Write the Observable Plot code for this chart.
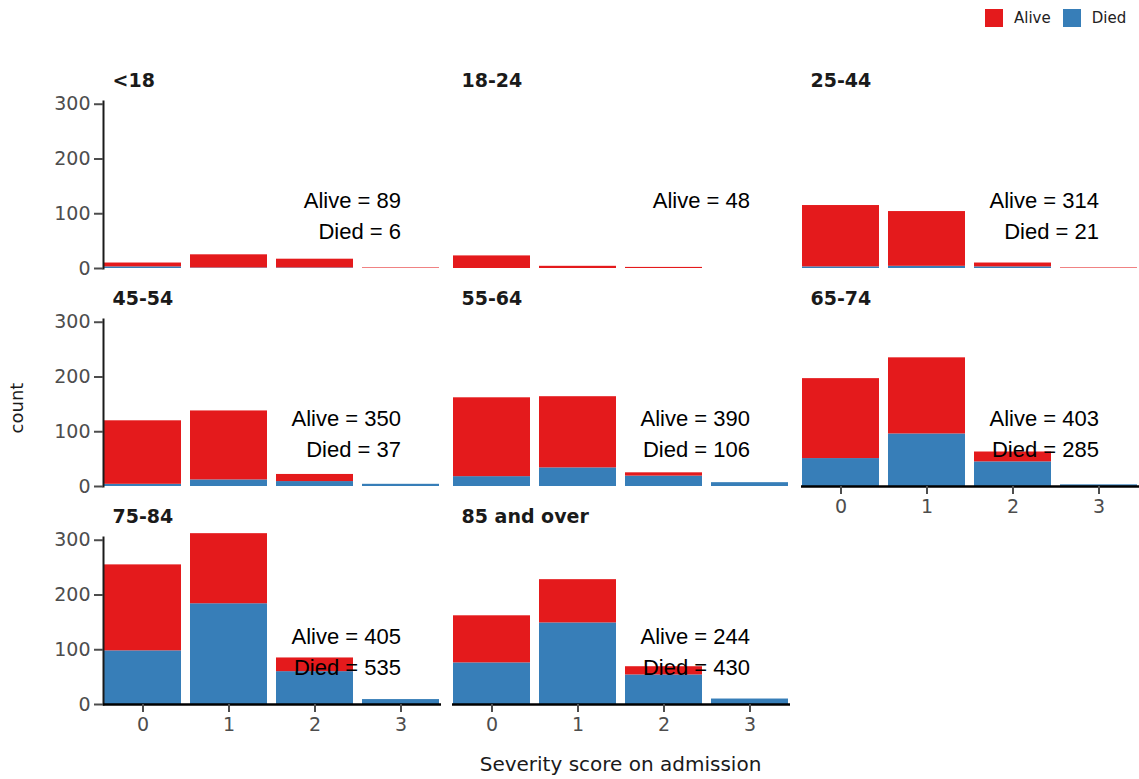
<!DOCTYPE html>
<html>
<head>
<meta charset="utf-8">
<script src="https://cdn.jsdelivr.net/npm/d3@7"></script>
<script src="https://cdn.jsdelivr.net/npm/@observablehq/plot@0.6"></script>
<style>
  body { margin: 0; background: #fff; font-family: "DejaVu Sans", sans-serif; }
  #wrap { position: relative; width: 1139px; height: 779px; }
  #legend { position: absolute; top: 9px; left: 985px; display: flex; align-items: center; font-size: 15px; color: #222; }
  #legend .sw { width: 18px; height: 18px; display: inline-block; }
  #legend .lab { margin-left: 11px; margin-right: 12px; }
  svg { position: absolute; top: 0; left: 0; }
</style>
</head>
<body>
<div id="wrap"><div id="legend"></div></div>
<script>
// ---- data ----
const ageGroups = ["<18", "18-24", "25-44", "45-54", "55-64", "65-74", "75-84", "85 and over"];
const scores = [0, 1, 2, 3];
const statuses = ["Alive", "Died"];
const statusColors = ["#e41a1c", "#377eb8"];
// counts per age group, per severity score 0..3
const aliveCounts = [
  [7, 24, 16, 1],
  [23, 4, 2, 0],
  [112, 100, 7, 1],
  [116, 126, 13, 0],
  [144, 130, 6, 0],
  [146, 139, 18, 0],
  [157, 128, 25, 0],
  [86, 79, 15, 0]
];
const diedCounts = [
  [3, 1, 1, 0],
  [0, 0, 0, 0],
  [3, 4, 3, 0],
  [4, 12, 9, 4],
  [18, 34, 19, 7],
  [51, 96, 45, 3],
  [98, 184, 60, 9],
  [76, 149, 54, 10]
];
const aliveTotals = [89, 48, 314, 350, 390, 403, 405, 244];
const diedTotals = [6, 0, 21, 37, 106, 285, 535, 430];
const yTicks = [0, 100, 200, 300];

// ---- build tables ----
const nCols = 3;
const rows = [];
ageGroups.forEach((g, i) => {
  scores.forEach((s, j) => rows.push({group: g, col: i % nCols, row: Math.floor(i / nCols), score: s, status: "Died", count: diedCounts[i][j]}));
  scores.forEach((s, j) => rows.push({group: g, col: i % nCols, row: Math.floor(i / nCols), score: s, status: "Alive", count: aliveCounts[i][j]}));
});
const titles = ageGroups.map((g, i) => ({group: g, col: i % nCols, row: Math.floor(i / nCols)}));
const notes = [];
ageGroups.forEach((g, i) => {
  const base = {group: g, col: i % nCols, row: Math.floor(i / nCols), score: scores[scores.length - 1]};
  notes.push({...base, line: 0, text: `Alive = ${aliveTotals[i]}`});
  if (diedTotals[i] > 0) notes.push({...base, line: 1, text: `Died = ${diedTotals[i]}`});
});

const font = "DejaVu Sans";
const chart = Plot.plot({
  width: 1139,
  height: 779,
  marginTop: 101,
  marginBottom: 75,
  marginLeft: 102,
  marginRight: 0,
  style: {fontFamily: font, background: "transparent", overflow: "visible"},
  fx: {domain: [0, 1, 2], paddingInner: 0.032, paddingOuter: 0, axis: null},
  fy: {domain: [0, 1, 2], paddingInner: 0.234, paddingOuter: 0, axis: null},
  x: {domain: scores, paddingInner: 0.1, paddingOuter: 0},
  y: {domain: [0, 305]},
  color: {domain: statuses, range: statusColors},
  marks: [
    Plot.barY(rows, {fx: "col", fy: "row", x: "score", y: "count", fill: "status", order: ["Died", "Alive"]}),
    Plot.frame({anchor: "left", facetAnchor: "left", stroke: "#1a1a1a", strokeWidth: 2}),
    Plot.ruleY([0], {facetAnchor: "bottom-empty", stroke: "#000", strokeWidth: 2.5}),
    Plot.axisY({facetAnchor: "left", ticks: yTicks, tickSize: 9, tickPadding: 4, fontSize: 19, color: "#4d4d4d", strokeWidth: 2, label: null}),
    Plot.axisX({facetAnchor: "bottom-empty", tickSize: 8, tickPadding: 5, fontSize: 19, color: "#4d4d4d", strokeWidth: 2, label: null}),
    Plot.text(titles, {fx: "col", fy: "row", text: "group", frameAnchor: "top-left", dx: 9, dy: -15, lineAnchor: "bottom", fontWeight: "bold", fontSize: 19, fill: "#1a1a1a"}),
    Plot.text(notes, {fx: "col", fy: "row", x: "score", y: d => d.line === 0 ? 124 : 66, text: "text", textAnchor: "end", lineAnchor: "middle", fontSize: 22, fill: "#000", fontFamily: "Liberation Sans"})
  ]
});

const wrap = document.getElementById("wrap");
wrap.appendChild(chart);
const svg = d3.select(chart);
// enforce tick label size
svg.selectAll('g[aria-label$="tick label"]').style("font-size", "19px");
svg.selectAll('g[aria-label$="tick label"] text').style("font-size", "19px");
svg.append("text")
  .attr("x", 620.5).attr("y", 765)
  .attr("text-anchor", "middle").attr("dominant-baseline", "middle")
  .attr("font-family", font).attr("font-size", 20).attr("fill", "#1a1a1a")
  .text("Severity score on admission");
svg.append("text")
  .attr("transform", "translate(18,408) rotate(-90)")
  .attr("text-anchor", "middle").attr("dominant-baseline", "middle")
  .attr("font-family", font).attr("font-size", 18).attr("fill", "#1a1a1a")
  .text("count");

// legend
const legend = d3.select("#legend");
statuses.forEach((s, i) => {
  legend.append("span").attr("class", "sw").style("background", statusColors[i]);
  legend.append("span").attr("class", "lab").text(s);
});
wrap.appendChild(document.getElementById("legend"));
</script>
</body>
</html>
